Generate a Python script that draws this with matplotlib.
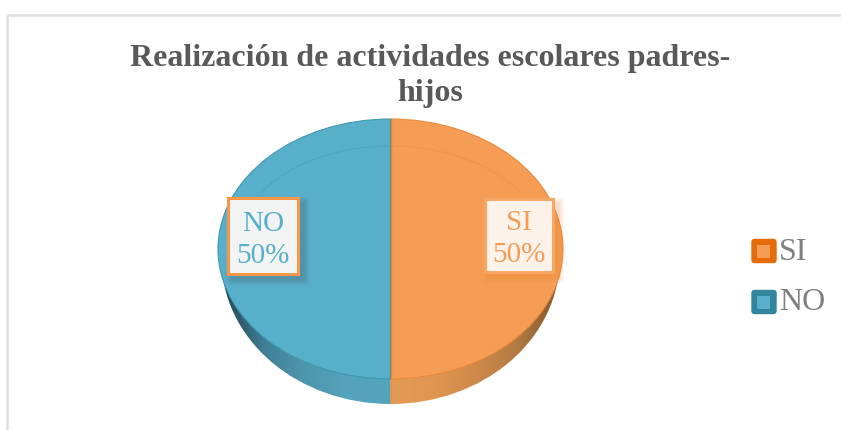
import numpy as np
import matplotlib
matplotlib.use("Agg")
import matplotlib.pyplot as plt
from matplotlib.patches import Rectangle, Arc, FancyBboxPatch
from matplotlib.colors import LinearSegmentedColormap

title = "Realización de actividades escolares padres-\nhijos"
categories = ["SI", "NO"]
values = [50, 50]

top_colors = ["#f59c55", "#58afca"]
edge_colors = ["#ea8a3a", "#4198b3"]
legend_colors = ["#e46c0a", "#31859c"]
box_faces = ["#fdf2ea", "#f1f4f3"]
box_edges = ["#f7a765", "#f79646"]
shadow_colors = ["#f08a35", "#4d6f78"]
shadow_alpha = [0.05, 0.08]

W, H = 841, 430
fig = plt.figure(figsize=(W / 100, H / 100), dpi=100)
plt.rcParams["font.family"] = ["Liberation Serif", "DejaVu Serif"]


def box_axes(x0, y0, x1, y1, z):
    a = fig.add_axes([x0 / W, 1 - y1 / H, (x1 - x0) / W, (y1 - y0) / H], zorder=z)
    return a


# side of the pie: its own ellipse, a bit narrower than the top face
sx, sy, srx, sry = 390.5, 259, 169, 145
side_ax = box_axes(sx - srx, sy - sry, sx + srx, sy + sry, 1)
side, _ = side_ax.pie(values, colors=top_colors, startangle=90, counterclock=False, radius=1)
side_maps = [
    LinearSegmentedColormap.from_list("o", ["#e39a55", "#df9651", "#d08a4a", "#b27a42", "#7d5630"]),
    LinearSegmentedColormap.from_list("b", ["#22434f", "#3f7f95", "#4f97af", "#54a3bc", "#54a3bc"]),
]
side_extents = [(0, 1), (-1, 0)]
gradient = np.linspace(0, 1, 256).reshape(1, -1)
for w, cmap, ext in zip(side, side_maps, side_extents):
    im = side_ax.imshow(gradient, cmap=cmap, extent=(ext[0], ext[1], -1, 0), aspect="auto", zorder=2)
    im.set_clip_path(w)
    w.set_visible(False)
side_ax.plot([0, 0], [-1, 0], color="#e0904e", lw=1.2, zorder=3)
side_ax.set_aspect("auto")
side_ax.set_xlim(-1, 1)
side_ax.set_ylim(-1, 1)
side_ax.axis("off")

# top face
cx, cy, rx, ry = 390.5, 249, 172.5, 130
pie_ax = box_axes(cx - rx, cy - ry, cx + rx, cy + ry, 2)
top, _ = pie_ax.pie(values, colors=top_colors, startangle=90, counterclock=False, radius=1,
                    wedgeprops={"linewidth": 0.8})
for w, e in zip(top, edge_colors):
    w.set_edgecolor(e)
    w.set_zorder(3)
pie_ax.plot([0, 0], [-1, 1], color="#e8822e", lw=1, zorder=4)

# faint bevel rim, upper half only
pie_ax.add_patch(Arc((0, 0), 2 * 155 / rx, 2 * 103 / ry, theta1=90, theta2=150, ec="#4a9fba", lw=0.8, alpha=0.6, zorder=3.5))
pie_ax.add_patch(Arc((0, 0), 2 * 155 / rx, 2 * 103 / ry, theta1=30, theta2=90, ec="#ea8f46", lw=0.8, alpha=0.5, zorder=3.5))

pie_ax.set_aspect("auto")
pie_ax.set_xlim(-1, 1)
pie_ax.set_ylim(-1, 1)
pie_ax.axis("off")

# overlay in pixel coordinates for frame, title, labels and legend
ax = fig.add_axes([0, 0, 1, 1], zorder=3)
ax.set_xlim(0, W)
ax.set_ylim(H, 0)
ax.axis("off")

ax.plot([7.5, W], [14.5, 14.5], color="#dedede", lw=1.8, solid_capstyle="butt")
ax.plot([7.5, 7.5], [14.5, H], color="#dedede", lw=1.8, solid_capstyle="butt")

ax.text(430, 76, title, ha="center", va="center", fontsize=23, fontweight="bold", color="#595959", linespacing=1.26)

label_boxes = [(485, 199, 68, 73), (228, 198, 70, 76)]
for cat, v, box, face, edge, shadow, sa, tc in zip(categories, values, label_boxes, box_faces, box_edges, shadow_colors, shadow_alpha, top_colors):
    x, y, w, h = box
    for grow in range(6, 0, -1):
        ax.add_patch(Rectangle((x + 5 - grow, y + 5 - grow), w + 2 * grow, h + 2 * grow,
                               fc=shadow, ec="none", alpha=sa))
    ax.add_patch(Rectangle((x, y), w, h, fc=face, ec=edge, lw=2.2))
    ax.text(x + w / 2, y + h / 2 + 4, f"{cat}\n{v}%", ha="center", va="center", fontsize=21, color=tc, linespacing=1.3)

legend_y = [251, 302]
for cat, y, c, tc in zip(categories, legend_y, legend_colors, top_colors):
    ax.add_patch(FancyBboxPatch((752, y - 11.5), 24, 23, boxstyle="round,pad=0,rounding_size=2.5", fc=c, ec=c, lw=1))
    ax.add_patch(Rectangle((757.5, y - 6.5), 13, 13, fc=tc, ec="none"))
    ax.text(779, y + 1, cat, ha="left", va="center", fontsize=23, color="#7f7f7f")

fig.savefig("out.png", dpi=100, facecolor="white")
